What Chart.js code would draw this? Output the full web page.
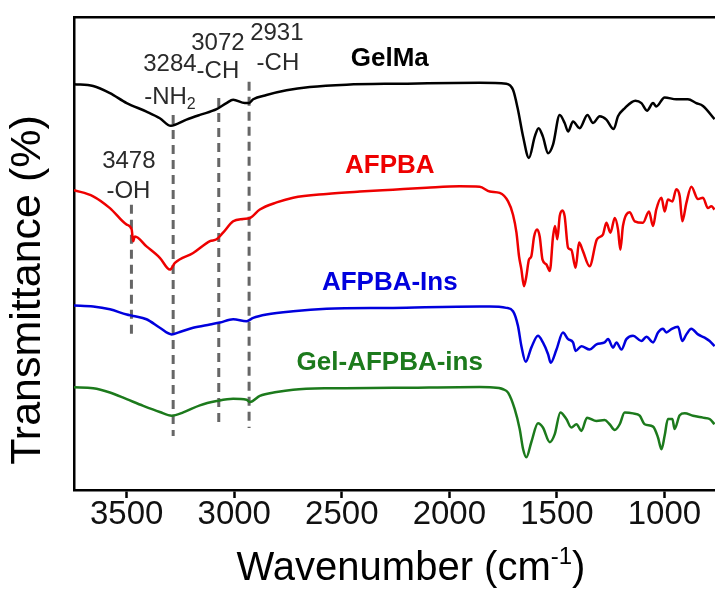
<!DOCTYPE html>
<html>
<head>
<meta charset="utf-8">
<script src="https://cdn.jsdelivr.net/npm/chart.js@4.4.1/dist/chart.umd.min.js"></script>
<style>
  html, body { margin: 0; padding: 0; background: #ffffff; }
  #wrap { width: 715px; height: 592px; position: relative; }
</style>
</head>
<body>
<div id="wrap"><canvas id="c"></canvas></div>
<script>
// ---------- DATA ----------
const xTicks = [3500, 3000, 2500, 2000, 1500, 1000];
const seriesNames = ['GelMa', 'AFPBA', 'AFPBA-Ins', 'Gel-AFPBA-ins'];

const gelmaX = [3745,3656,3578,3500,3408,3346,3295,3222,3160,3082,3036,3005,2951,2931,2912,2850,2757,2649,2478,2230,1859,1735,1704,1681,1657,1630,1603,1585,1565,1541,1518,1487,1464,1448,1425,1394,1358,1332,1301,1270,1236,1216,1185,1135,1107,1081,1053,1038,999,945,891,852,821,767];
const gelmaY = [85.8,85.4,83.9,81.8,80.0,78.6,77.0,78.3,79.3,80.5,81.8,82.5,81.8,81.8,82.6,83.5,84.5,85.2,85.7,85.9,86.1,85.9,84.6,80.4,74.7,70.2,74.7,76.5,74.7,71.2,73.0,79.3,77.6,75.8,77.9,76.5,79.3,77.6,79.0,78.3,76.3,79.0,80.7,82.3,81.8,80.2,81.8,81.1,83.0,82.6,82.6,81.8,81.2,78.4];

const afpbaX = [3745,3656,3578,3500,3477,3470,3462,3408,3346,3299,3276,3191,3113,3082,3052,3005,2959,2927,2881,2803,2726,2571,2416,2262,2106,1952,1859,1812,1766,1727,1704,1688,1676,1665,1653,1642,1630,1619,1606,1592,1580,1567,1549,1533,1518,1509,1498,1487,1474,1464,1448,1433,1413,1397,1379,1348,1314,1286,1270,1251,1231,1216,1205,1193,1162,1138,1100,1072,1053,1038,1014,999,984,963,945,929,917,898,875,844,821,798,782,767];
const afpbaY = [63.4,62.1,59.6,56.1,55.1,52.6,53.6,51.5,49.1,46.6,48.0,50.1,52.6,53.0,54.4,56.8,57.3,57.5,59.3,60.8,61.8,62.6,63.1,63.5,63.9,64.2,64.1,63.1,62.8,61.0,58.2,54.4,49.4,46.6,43.1,45.2,48.7,49.4,53.6,55.1,53.6,48.7,47.7,46.3,53.6,55.8,53.0,57.9,59.1,57.9,51.2,50.8,47.0,52.3,50.5,47.3,53.0,54.0,56.5,54.4,57.5,55.1,50.8,55.8,58.7,56.8,56.5,58.9,55.8,59.3,61.8,58.9,61.4,61.0,63.6,62.1,56.8,60.7,64.1,61.5,61.8,59.6,60.0,59.3];

const afpbaInsX = [3745,3656,3578,3500,3470,3408,3346,3291,3253,3191,3113,3067,3005,2943,2912,2850,2726,2571,2262,1859,1812,1735,1704,1681,1665,1645,1619,1588,1565,1541,1529,1502,1472,1448,1425,1413,1386,1348,1316,1278,1262,1239,1223,1200,1177,1146,1107,1084,1053,1030,1007,991,968,937,917,898,875,844,813,790,767];
const afpbaInsY = [39.0,38.8,38.2,37.1,36.8,36.1,34.3,32.9,33.4,34.3,35.0,35.4,36.1,35.7,36.4,37.1,37.8,38.3,38.5,38.8,38.8,38.5,37.8,34.7,30.4,27.1,30.1,32.6,31.2,28.7,26.9,29.7,33.3,31.9,31.2,29.4,30.4,29.7,30.8,31.2,31.9,30.1,31.2,29.7,31.9,32.6,31.5,32.4,31.2,33.3,34.1,33.3,34.0,34.5,31.5,32.9,34.1,32.9,32.2,31.5,30.4];

const gelAfpbaInsX = [3745,3656,3578,3500,3423,3346,3291,3237,3160,3082,3005,2943,2927,2881,2803,2726,2571,2262,1859,1812,1750,1727,1696,1673,1657,1642,1619,1588,1565,1533,1510,1484,1456,1433,1409,1386,1360,1316,1278,1255,1231,1208,1185,1146,1115,1092,1053,1030,1014,999,984,963,953,929,906,867,821,790,767];
const gelAfpbaInsY = [21.7,21.5,20.6,19.2,17.8,16.5,15.7,16.4,17.9,18.8,19.3,19.1,18.6,19.9,20.7,21.2,21.5,21.6,21.8,21.7,21.3,20.6,17.1,12.9,8.6,6.9,10.1,14.1,13.2,10.1,11.8,16.4,15.0,13.2,13.9,12.5,15.3,14.6,14.8,13.9,12.7,13.9,16.4,16.2,15.7,13.9,13.4,11.1,8.6,11.5,15.0,15.0,12.9,15.8,16.2,15.7,15.3,15.0,13.9];

// marker (dashed) lines
const markerWavenumbers = [3478, 3284, 3072, 2931];
const markerTop = [60.3, 79.3, 82.9, 86.3];
const markerBottom = [31.9, 11.4, 13.9, 13.1];
const markerLabels = ['3478', '3284', '3072', '2931'];
const markerGroups = ['-OH', '-NH', '-CH', '-CH'];
const markerGroupSub = ['', '2', '', ''];

// ---------- STYLE / LAYOUT ----------
const seriesColors = ['#000000', '#ee0000', '#0000dd', '#1c7a1c'];
const FONT = "'Liberation Sans', Arial, Helvetica, sans-serif";
const markerNumPos = [[3490, 69.4], [3299, 89.9], [3076, 94.5], [2802, 96.6]];
const markerGrpPos = [[3492, 63.1], [3299, 83.1], [3076, 88.4], [2797, 90.3]];
const seriesLabelPos = [[2277, 91.2], [2277, 68.6], [2277, 43.9], [2277, 26.8]];

function pts(xs, ys) { return xs.map((x, i) => ({ x: x, y: ys[i] })); }
const allX = [gelmaX, afpbaX, afpbaInsX, gelAfpbaInsX];
const allY = [gelmaY, afpbaY, afpbaInsY, gelAfpbaInsY];

const datasets = seriesNames.map((name, i) => ({
  label: name,
  data: pts(allX[i], allY[i]),
  borderColor: seriesColors[i],
  borderWidth: 2.5,
  pointRadius: 0,
  showLine: true,
  fill: false,
  cubicInterpolationMode: 'monotone'
}));

const overlay = {
  id: 'overlay',
  beforeDatasetsDraw(chart) {
    const ctx = chart.ctx, xs = chart.scales.x, ys = chart.scales.y;
    ctx.save();
    ctx.strokeStyle = '#666666';
    ctx.lineWidth = 3;
    ctx.setLineDash([9, 6]);
    markerWavenumbers.forEach((w, i) => {
      const px = xs.getPixelForValue(w);
      ctx.beginPath();
      ctx.moveTo(px, ys.getPixelForValue(markerTop[i]));
      ctx.lineTo(px, ys.getPixelForValue(markerBottom[i]));
      ctx.stroke();
    });
    ctx.restore();
  },
  afterDraw(chart) {
    const ctx = chart.ctx, xs = chart.scales.x, ys = chart.scales.y;
    ctx.save();
    ctx.fillStyle = '#2a2a2a';
    ctx.textBaseline = 'middle';
    ctx.textAlign = 'center';
    ctx.font = '24px ' + FONT;
    markerLabels.forEach((t, i) => {
      ctx.fillText(t, xs.getPixelForValue(markerNumPos[i][0]), ys.getPixelForValue(markerNumPos[i][1]));
      const gx = xs.getPixelForValue(markerGrpPos[i][0]);
      const gy = ys.getPixelForValue(markerGrpPos[i][1]);
      const main = markerGroups[i], sub = markerGroupSub[i];
      ctx.font = '24px ' + FONT;
      const wMain = ctx.measureText(main).width;
      ctx.font = '16px ' + FONT;
      const wSub = sub ? ctx.measureText(sub).width : 0;
      const start = gx - (wMain + wSub) / 2;
      ctx.textAlign = 'left';
      ctx.font = '24px ' + FONT;
      ctx.fillText(main, start, gy);
      if (sub) {
        ctx.font = '16px ' + FONT;
        ctx.fillText(sub, start + wMain, gy + 8);
      }
      ctx.textAlign = 'center';
      ctx.font = '24px ' + FONT;
    });
    ctx.font = 'bold 26px ' + FONT;
    seriesNames.forEach((n, i) => {
      ctx.fillStyle = seriesColors[i];
      ctx.fillText(n, xs.getPixelForValue(seriesLabelPos[i][0]), ys.getPixelForValue(seriesLabelPos[i][1]));
    });
    ctx.fillStyle = '#000000';
    ctx.textAlign = 'left';
    ctx.textBaseline = 'alphabetic';
    const p1 = 'Wavenumber (cm', sup = '-1', p3 = ')';
    ctx.font = '40px ' + FONT;
    const w1 = ctx.measureText(p1).width, w3 = ctx.measureText(p3).width;
    ctx.font = '24px ' + FONT;
    const w2 = ctx.measureText(sup).width;
    const cx = 411, by = 580;
    let sx = cx - (w1 + w2 + w3) / 2;
    ctx.font = '40px ' + FONT;
    ctx.fillText(p1, sx, by);
    ctx.font = '24px ' + FONT;
    ctx.fillText(sup, sx + w1, by - 16);
    ctx.font = '40px ' + FONT;
    ctx.fillText(p3, sx + w1 + w2, by);
    ctx.translate(28, 290);
    ctx.rotate(-Math.PI / 2);
    ctx.textAlign = 'center';
    ctx.textBaseline = 'middle';
    ctx.font = '43px ' + FONT;
    ctx.fillText('Transmittance (%)', 0, 0);
    ctx.restore();
  }
};

new Chart(document.getElementById('c'), {
  type: 'scatter',
  data: { datasets: datasets },
  options: {
    responsive: true,
    maintainAspectRatio: false,
    animation: false,
    devicePixelRatio: 1,
    layout: { padding: { left: 0, right: 0, top: 17, bottom: 0 } },
    plugins: { legend: { display: false }, tooltip: { enabled: false } },
    scales: {
      x: {
        type: 'linear',
        position: 'bottom',
        reverse: true,
        min: 765,
        max: 3745,
        afterBuildTicks(scale) { scale.ticks = xTicks.map(v => ({ value: v })); },
        afterFit(scale) { scale.height = 102; },
        grid: { display: true, drawOnChartArea: false, drawTicks: true, tickLength: 8, tickWidth: 2.5, tickColor: '#000' },
        border: { display: true, color: '#000', width: 2.5 },
        ticks: { color: '#111', font: { family: FONT, size: 33 }, padding: -3, maxRotation: 0, autoSkip: false,
                 callback: (v) => String(v) },
        title: { display: false }
      },
      x2: {
        type: 'linear',
        position: 'top',
        min: 765,
        max: 3745,
        afterFit(scale) { scale.height = 0; },
        grid: { display: false, drawOnChartArea: false, drawTicks: false },
        border: { display: true, color: '#000', width: 2.5 },
        ticks: { display: false }
      },
      y: {
        type: 'linear',
        min: 0,
        max: 100,
        afterFit(scale) { scale.width = 74; },
        grid: { display: false, drawTicks: false },
        border: { display: true, color: '#000', width: 2.5 },
        ticks: { display: false }
      }
    }
  },
  plugins: [overlay]
});
</script>
</body>
</html>
